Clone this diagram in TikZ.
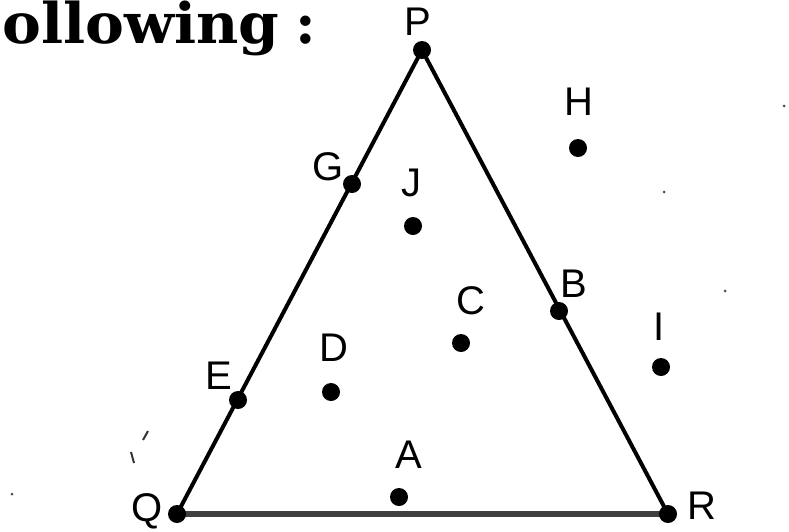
\documentclass[tikz,border=0pt]{standalone}
\usepackage{fontspec}
\setmainfont{Liberation Sans}
\newfontfamily\titlefont{DejaVu Serif}
\begin{document}
\begin{tikzpicture}[x=1pt,y=-1pt,
  lbl/.style={font=\fontsize{40}{42}\selectfont, inner sep=0pt},
  pt/.style={circle, fill=black, inner sep=0pt, minimum size=18pt},
  side/.style={line width=4pt, black},
  base/.style={line width=5.5pt, black!75},
  speck/.style={circle, fill=black!70, inner sep=0pt, minimum size=3pt}]
\useasboundingbox (0,0) rectangle (789,531);
% title fragment
\node[anchor=base west, inner sep=0pt, font=\titlefont\bfseries\fontsize{56}{58}\selectfont] (title) at (2,43) {\scalebox{1.04}[1]{ollowing}\hspace{16pt}:};
% vertices and points
\coordinate (P) at (422,50);
\coordinate (Q) at (177,514);
\coordinate (R) at (668,514);
\draw[base] (Q) -- (R);
\draw[side] (Q) -- (P) -- (R);
\node[pt] (dP) at (P) {};
\node[pt] (dQ) at (Q) {};
\node[pt] (dR) at (R) {};
\node[pt] (dG) at (352,184) {};
\node[pt] (dE) at (238,400) {};
\node[pt] (dB) at (559,311) {};
\node[pt] (dH) at (578,148) {};
\node[pt] (dJ) at (413,226) {};
\node[pt] (dC) at (461,343) {};
\node[pt] (dD) at (331,392) {};
\node[pt] (dI) at (661,367) {};
\node[pt] (dA) at (399,497) {};
% labels
\node[lbl] (lP) at (418,22) {P};
\node[lbl] (lQ) at (147,511) {Q};
\node[lbl] (lR) at (702,506) {R};
\node[lbl] (lG) at (328,167) {G};
\node[lbl] (lE) at (219,376) {E};
\node[lbl] (lB) at (574,284) {B};
\node[lbl] (lH) at (579,102) {H};
\node[lbl] (lJ) at (411,183) {J};
\node[lbl] (lC) at (471,301) {C};
\node[lbl] (lD) at (334,348) {D};
\node[lbl] (lI) at (659,327) {I};
\node[lbl] (lA) at (409,455) {A};
% stray specks
\node[speck] (s1) at (784,106) {};
\node[speck] (s2) at (664,192) {};
\node[speck] (s3) at (725,291) {};
\node[speck] (s4) at (12,494) {};
\draw[line width=2pt, black!80] (148,431) -- (143,440);
\draw[line width=2pt, black!80] (131,452) -- (134,463);
\end{tikzpicture}
\end{document}
